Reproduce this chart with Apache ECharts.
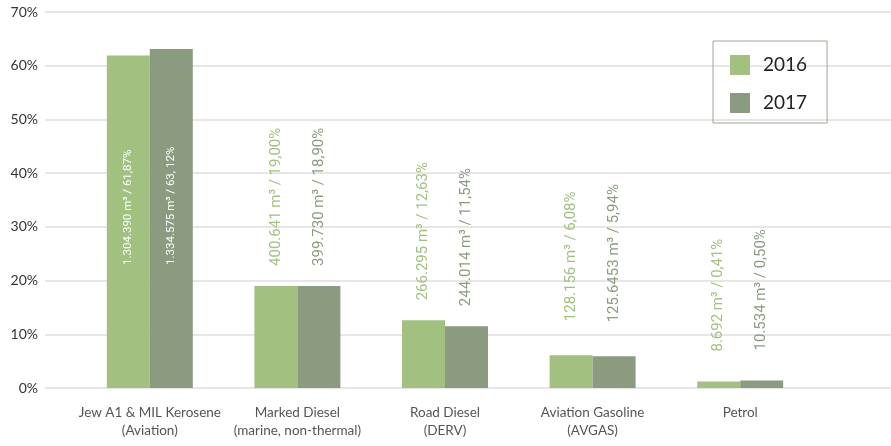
<!DOCTYPE html>
<html>
<head>
<meta charset="utf-8">
<script src="https://cdn.jsdelivr.net/npm/echarts@6/dist/echarts.min.js"></script>
<style>
  html, body { margin: 0; padding: 0; background: #fff; }
  #chart { width: 891px; height: 446px; }
</style>
</head>
<body>
<div id="chart"></div>
<script>
const categories = [
  "Jew A1 & MIL Kerosene\n(Aviation)",
  "Marked Diesel\n(marine, non-thermal)",
  "Road Diesel\n(DERV)",
  "Aviation Gasoline\n(AVGAS)",
  "Petrol"
];
const years = ["2016", "2017"];
const values2016 = [61.9, 19.0, 12.6, 6.1, 1.2];
const values2017 = [63.1, 19.0, 11.5, 5.9, 1.4];
const volume2016 = ["1.304.390", "400.641", "266.295", "128.156", "8.692"];
const volume2017 = ["1.334.575", "399.730", "244.014", "125.6453", "10.534"];
const share2016 = ["61,87", "19,00", "12,63", "6,08", "0,41"];
const share2017 = ["63, 12", "18,90", "11,54", "5,94", "0,50"];
const yTicks = [0, 10, 20, 30, 40, 50, 60, 70];

const colors = ["#a2c181", "#8a9b80"];
const labelFont = "'Liberation Sans Narrow', 'Roboto', sans-serif";
// gap between bar top and its label, per category
const labelGaps = [0, 20, 20, 34, 30];

function makeSeries(name, values, volumes, shares, color) {
  return {
    name: name,
    type: "bar",
    xAxisIndex: 1,
    yAxisIndex: 1,
    barWidth: 43,
    barGap: "0%",
    itemStyle: { color: color },
    data: values.map((v, i) => {
      const item = { value: v };
      if (i === 0) {
        // first group has its label inside the tall bar
        item.label = {
          position: "insideBottom",
          distance: 123,
          color: "#ffffff",
          fontSize: 11.5
        };
      } else {
        item.label = { distance: labelGaps[i] };
      }
      return item;
    }),
    label: {
      show: true,
      position: "top",
      rotate: 90,
      align: "left",
      verticalAlign: "middle",
      color: color,
      fontFamily: labelFont,
      fontSize: 15,
      formatter: (p) => volumes[p.dataIndex] + " m³ / " + shares[p.dataIndex] + "%"
    }
  };
}

const chart = echarts.init(document.getElementById("chart"), null, { renderer: "canvas" });

chart.setOption({
  animation: false,
  backgroundColor: "#ffffff",
  textStyle: { fontFamily: "Lato, 'Open Sans', sans-serif" },
  grid: [
    { left: 45, right: 0, top: 12, bottom: 58 },
    { left: 76, right: 77, top: 12, bottom: 58 }
  ],
  legend: {
    data: years,
    orient: "vertical",
    left: 713,
    top: 41,
    padding: [14, 20, 10, 17],
    icon: "rect",
    itemWidth: 20,
    itemHeight: 20,
    itemGap: 18,
    borderColor: "#9aab90",
    borderWidth: 1,
    textStyle: { fontSize: 19, color: "#222", padding: [0, 0, 0, 8] }
  },
  xAxis: [
    { type: "value", gridIndex: 0, show: false, min: 0, max: 1 },
    {
      type: "category",
      gridIndex: 1,
      data: categories,
      axisLine: { show: false },
      axisTick: { show: false },
      axisLabel: {
        color: "#555",
        fontSize: 13.5,
        lineHeight: 18,
        margin: 16,
        interval: 0
      }
    }
  ],
  yAxis: [
    {
      type: "value",
      gridIndex: 0,
      min: yTicks[0],
      max: yTicks[yTicks.length - 1],
      interval: 10,
      axisLine: { show: false },
      axisTick: { show: false },
      axisLabel: {
        color: "#333",
        fontSize: 14,
        margin: 7,
        formatter: "{value}%"
      },
      splitLine: { lineStyle: { color: "#e6e6e6", width: 2 } }
    },
    {
      type: "value",
      gridIndex: 1,
      min: yTicks[0],
      max: yTicks[yTicks.length - 1],
      show: false
    }
  ],
  series: [
    makeSeries(years[0], values2016, volume2016, share2016, colors[0]),
    makeSeries(years[1], values2017, volume2017, share2017, colors[1])
  ]
});
</script>
</body>
</html>
